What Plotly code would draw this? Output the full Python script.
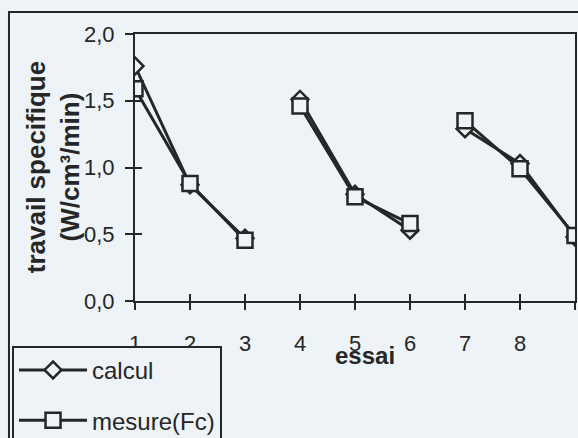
import plotly.graph_objects as go

# essais 1..9, run as three series of three (no line between series)
series_x = [[1, 2, 3], [4, 5, 6], [7, 8, 9]]
calcul = [[1.76, 0.87, 0.47], [1.51, 0.80, 0.53], [1.29, 1.03, 0.48]]
mesure = [[1.59, 0.88, 0.455], [1.46, 0.78, 0.58], [1.35, 0.99, 0.49]]

x_ticks = [1, 2, 3, 4, 5, 6, 7, 8, 9]
y_ticks = [0, 0.5, 1.0, 1.5, 2.0]

BG = "#edf3f6"
INK = "#262626"
FONT = "Liberation Sans, Arial, sans-serif"

fig = go.Figure()

for i, (xs, ys) in enumerate(zip(series_x, calcul)):
    fig.add_trace(go.Scatter(
        x=xs, y=ys, name="calcul", mode="lines+markers",
        line=dict(color=INK, width=3),
        marker=dict(symbol="diamond", size=13, color=BG,
                    line=dict(color=INK, width=2.5)),
        legendgroup="a", showlegend=(i == 0)))

# mesure on the overlay axes so it is drawn above calcul
for i, (xs, ys) in enumerate(zip(series_x, mesure)):
    fig.add_trace(go.Scatter(
        x=xs, y=ys, name="mesure(Fc)", mode="lines+markers",
        xaxis="x2", yaxis="y2",
        line=dict(color=INK, width=3),
        marker=dict(symbol="square", size=15, color=BG,
                    line=dict(color=INK, width=2.5)),
        legendgroup="b", showlegend=(i == 0)))

axis_common = dict(showgrid=False, zeroline=False, tickcolor=INK,
                   tickwidth=2, linecolor=INK, linewidth=2)

fig.update_layout(
    width=578, height=438,
    margin=dict(l=135, r=3, t=34, b=137, autoexpand=False),
    paper_bgcolor=BG, plot_bgcolor=BG,
    font=dict(family=FONT, color=INK, size=22),
    separators=", ",
    xaxis=dict(range=[1, 9], tickvals=x_ticks, ticks="outside", ticklen=7,
               showline=True, mirror=True, ticklabelstandoff=15,
               tickfont=dict(size=22), **axis_common),
    yaxis=dict(range=[0, 2], tickvals=y_ticks, tickformat=".1f",
               ticks="outside", ticklen=8, showline=True, mirror=True,
               ticklabelstandoff=6, tickfont=dict(size=22), **axis_common),
    xaxis2=dict(overlaying="x", anchor="y2", range=[1, 9], tickvals=x_ticks,
                ticks="inside", ticklen=7, showticklabels=False,
                showline=False, **axis_common),
    yaxis2=dict(overlaying="y", anchor="x2", range=[0, 2], tickvals=y_ticks,
                ticks="inside", ticklen=7, showticklabels=False,
                showline=False, **axis_common),
    legend=dict(x=-0.2795, y=-0.168, xanchor="left", yanchor="top",
                bgcolor=BG, bordercolor=INK, borderwidth=2,
                font=dict(size=24, family=FONT, color=INK),
                traceorder="grouped", tracegroupgap=16, itemwidth=68),
    shapes=[dict(type="rect", xref="paper", yref="paper",
                 x0=-0.2864, x1=1.3, y0=-1.0, y1=1.0824,
                 line=dict(color=INK, width=2), layer="below")],
    annotations=[
        dict(text="travail specifique<br>(W/cm³/min)", textangle=-90,
             xref="paper", yref="paper", x=-0.187, y=0.50,
             xanchor="center", yanchor="middle", showarrow=False,
             font=dict(size=26, family=FONT, color=INK, weight="bold")),
        dict(text="essai", xref="paper", yref="paper", x=0.523, y=-0.205,
             xanchor="center", yanchor="middle", showarrow=False,
             font=dict(size=24, family=FONT, color=INK, weight="bold")),
    ],
)

fig.write_html("out.html", config={"displayModeBar": False},
               post_script="document.body.style.margin='0';")
